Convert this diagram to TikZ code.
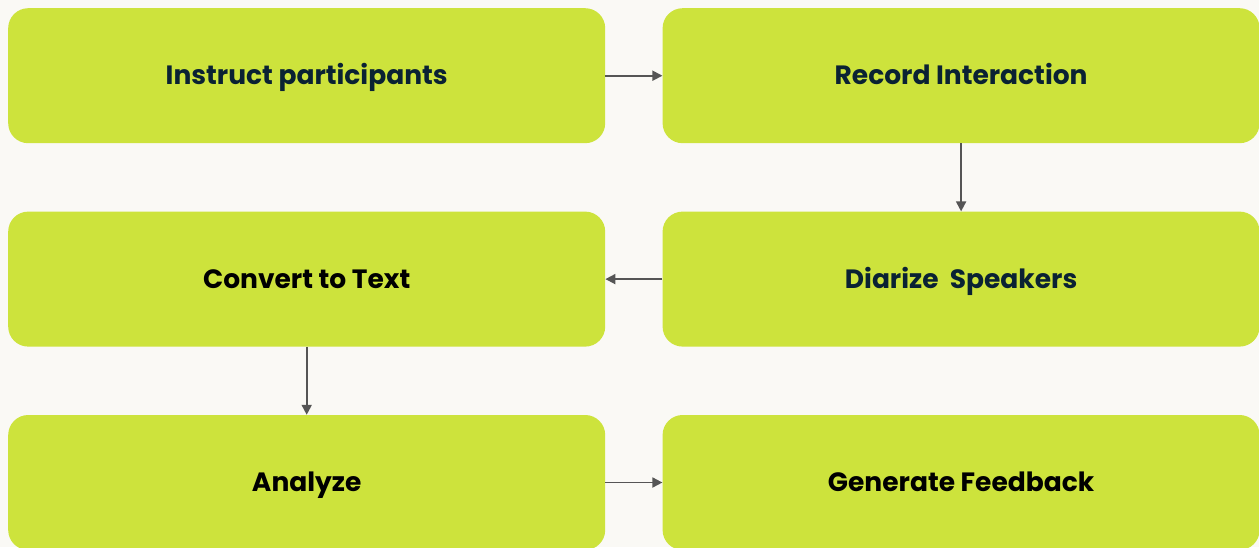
\documentclass[tikz,border=0pt]{standalone}
\usepackage{fontspec}
\setmainfont{Poppins}
\usetikzlibrary{positioning,arrows.meta}

\definecolor{boxgreen}{RGB}{205,227,60}
\definecolor{paper}{RGB}{250,249,245}
\definecolor{navy}{RGB}{10,34,51}
\definecolor{arrowgray}{RGB}{85,85,85}

\tikzset{
  stepbox/.style={rounded corners=20pt, fill=boxgreen, minimum width=597pt, minimum height=135pt,
    inner sep=0pt, text height=18.5pt, text depth=0pt, font=\bfseries\fontsize{26.5}{30}\selectfont},
  flow/.style={draw=arrowgray, line width=1.8pt, -{Triangle[length=10pt,width=10pt]}}
}

\begin{document}
\begin{tikzpicture}[x=1pt,y=1pt]
% page and background
\useasboundingbox (0,0) rectangle (1259,-547);
\fill [paper] (0,0) rectangle (1259,-547);

% steps
\node [stepbox, text=navy, anchor=north west] (instruct) at (8,-8) {Instruct participants};
\node [stepbox, text=navy, right=57pt of instruct] (record) {Record Interaction};
\node [stepbox, text=navy, below=68pt of record] (diarize) {Diarize\ \ Speakers};
\node [stepbox, text=black, below=68pt of instruct] (convert) {Convert to Text};
\node [stepbox, text=black, below=68pt of convert] (analyze) {Analyze};
\node [stepbox, text=black, right=57pt of analyze] (feedback) {Generate Feedback};

% connectors
\draw [flow] (instruct) -- (record);
\draw [flow] (record) -- (diarize);
\draw [flow] (diarize) -- (convert);
\draw [flow] (convert) -- (analyze);
\draw [flow] (analyze) -- (feedback);

\end{tikzpicture}
\end{document}
